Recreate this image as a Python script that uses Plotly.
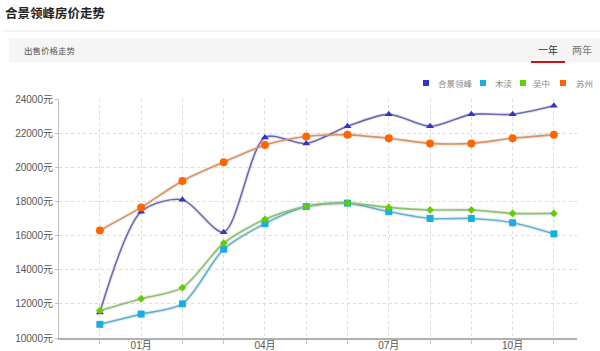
import plotly.graph_objects as go

# ---- data ----
months = ['12月', '01月', '02月', '03月', '04月', '05月', '06月', '07月', '08月', '09月', '10月', '11月']
shown_months = ['01月', '04月', '07月', '10月']
hejing = [11500, 17400, 18100, 16200, 21750, 21400, 22400, 23100, 22400, 23100, 23100, 23600]
mudu = [10800, 11400, 12000, 15200, 16700, 17700, 17900, 17400, 17000, 17000, 16750, 16100]
wuzhong = [11600, 12300, 12950, 15550, 16950, 17700, 17900, 17650, 17500, 17500, 17300, 17300]
suzhou = [16300, 17650, 19200, 20300, 21300, 21800, 21900, 21700, 21400, 21400, 21700, 21900]
series_names = ['合景领峰', '木渎', '吴中', '苏州']
y_ticks = [10000, 12000, 14000, 16000, 18000, 20000, 22000, 24000]

W, H = 600, 351
L, R, T, B = 59, 577, 99, 338
FONT = 'Liberation Sans, Arial, Noto Sans CJK SC, sans-serif'
CJK = 'Noto Sans CJK SC, sans-serif'

def px(x):
    return (x - L) / (R - L)

def py(y):
    return (B - y) / (B - T)

x = list(range(len(months)))
ticktext = [m if m in shown_months else '' for m in months]

styles = [
    dict(color='#3333cc', line='#6a6ab8', symbol='triangle-up', size=7),
    dict(color='#14b0e4', line='#5bb5d3', symbol='square', size=7),
    dict(color='#66cc00', line='#88c46a', symbol='diamond', size=6),
    dict(color='#ff6600', line='#e0905a', symbol='circle', size=8),
]
data = [hejing, mudu, wuzhong, suzhou]

fig = go.Figure()
for name, vals, st in zip(series_names, data, styles):
    fig.add_trace(go.Scatter(x=x, y=vals, mode='lines', showlegend=False, hoverinfo='skip',
                             line=dict(color='rgba(0,0,0,0.07)', width=4, shape='spline', smoothing=0.8)))
    fig.add_trace(go.Scatter(x=x, y=vals, mode='lines+markers', name=name, showlegend=False,
                             line=dict(color=st['line'], width=1.6, shape='spline', smoothing=0.8),
                             marker=dict(color=st['color'], symbol=st['symbol'], size=st['size'],
                                         line=dict(width=0))))

fig.update_xaxes(range=[-0.99, 11.56], tickvals=x, ticktext=ticktext, showgrid=True,
                 gridcolor='#dcdcdc', griddash='dot', gridwidth=1,
                 showline=True, linecolor='#b0b0b0', linewidth=2,
                 ticks='outside', ticklen=4, tickcolor='#c8c8c8', ticklabelstandoff=-7,
                 tickfont=dict(family=FONT, size=10, color='#555'), zeroline=False, fixedrange=True)
fig.update_yaxes(range=[10000, 24000], tickvals=y_ticks, ticktext=[f'{v}元' for v in y_ticks],
                 showgrid=True, gridcolor='#dcdcdc', griddash='dot', gridwidth=1,
                 showline=True, linecolor='#c0c0c0', linewidth=1,
                 ticks='outside', ticklen=3, tickcolor='#c0c0c0',
                 tickfont=dict(family=FONT, size=10, color='#555'), zeroline=False, fixedrange=True)

shapes = [
    dict(type='line', xref='paper', yref='paper', x0=px(3), x1=px(600), y0=py(31), y1=py(31),
         line=dict(color='#e6e6e6', width=1), layer='below'),
    dict(type='rect', xref='paper', yref='paper', x0=px(9), x1=px(600), y0=py(62), y1=py(38),
         fillcolor='#f5f5f5', line=dict(width=0), layer='below'),
    dict(type='line', xref='paper', yref='paper', x0=px(531), x1=px(565), y0=py(62), y1=py(62),
         line=dict(color='#c81414', width=2)),
]
annotations = [
    dict(text='<b>合景领峰房价走势</b>', x=px(3), y=py(12), xref='paper', yref='paper',
         xanchor='left', yanchor='middle', showarrow=False, font=dict(family=CJK, size=12.5, color='#222')),
    dict(text='出售价格走势', x=px(21.5), y=py(50), xref='paper', yref='paper',
         xanchor='left', yanchor='middle', showarrow=False, font=dict(family=CJK, size=8.5, color='#555')),
    dict(text='一年', x=px(548), y=py(50), xref='paper', yref='paper',
         xanchor='center', yanchor='middle', showarrow=False, font=dict(family=CJK, size=10, color='#333')),
    dict(text='两年', x=px(582), y=py(50), xref='paper', yref='paper',
         xanchor='center', yanchor='middle', showarrow=False, font=dict(family=CJK, size=10, color='#777')),
]

# manual legend (square swatches + labels)
legend_sq = [426, 483, 523, 563]
legend_tx = [436, 493, 531, 574]
for name, st, sx, tx in zip(series_names, styles, legend_sq, legend_tx):
    shapes.append(dict(type='rect', xref='paper', yref='paper', x0=px(sx - 3), x1=px(sx + 3),
                       y0=py(83 - 3), y1=py(83 + 3), fillcolor=st['color'], line=dict(width=0)))
    annotations.append(dict(text=name, x=px(tx), y=py(83), xref='paper', yref='paper',
                            xanchor='left', yanchor='middle', showarrow=False,
                            font=dict(family=CJK, size=8.5, color='#888')))

fig.update_layout(
    width=W, height=H, margin=dict(l=L, r=W - R, t=T, b=H - B, autoexpand=False),
    paper_bgcolor='white', plot_bgcolor='white',
    shapes=shapes, annotations=annotations,
    showlegend=False,
)

fig.write_html('out.html', config={'displayModeBar': False})
